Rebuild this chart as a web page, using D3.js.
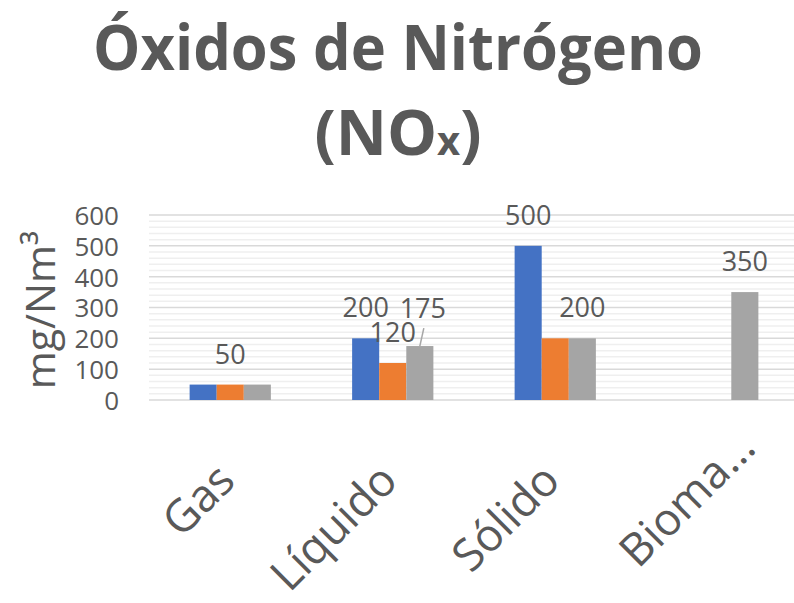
<!DOCTYPE html>
<html>
<head>
<meta charset="utf-8">
<script src="https://cdn.jsdelivr.net/npm/d3@7"></script>
<style>
  body { margin: 0; background: #ffffff; }
  text { font-family: "Open Sans", sans-serif; fill: #595959; }
</style>
</head>
<body>
<div id="chart"></div>
<script>
// data
const categories = ["Gas", "Líquido", "Sólido", "Biomasa"];
const categoryLabels = ["Gas", "Líquido", "Sólido", "Bioma…"];
const seriesNames = ["Serie 1", "Serie 2", "Serie 3"];
const serie1 = [50, 200, 500, null];
const serie2 = [50, 120, 200, null];
const serie3 = [50, 175, 200, 350];
const yTicks = [0, 100, 200, 300, 400, 500, 600];
// which data labels are visible: [category index, series index]
const shownLabels = [[0, 1], [1, 0], [1, 1], [1, 2], [2, 0], [2, 2], [3, 2]];

const colors = ["#4472C4", "#ED7D31", "#A5A5A5"];
const allSeries = [serie1, serie2, serie3];

const W = 794, H = 603;
const plot = {left: 149, right: 799, top: 215, bottom: 400};

const svg = d3.select("#chart").append("svg")
    .attr("width", W)
    .attr("height", H);

const x = d3.scaleBand()
    .domain(categories)
    .range([plot.left, plot.right])
    .padding(0);

const x1 = d3.scaleBand()
    .domain(seriesNames)
    .range([x.bandwidth() * 0.25, x.bandwidth() * 0.75])
    .padding(0);

const y = d3.scaleLinear()
    .domain([0, 600])
    .range([plot.bottom, plot.top]);

// minor gridlines
svg.append("g")
    .selectAll("line")
    .data(d3.range(0, 601, 20).filter(v => v % 100 !== 0))
    .join("line")
    .attr("x1", plot.left).attr("x2", W)
    .attr("y1", d => y(d)).attr("y2", d => y(d))
    .attr("stroke", "#efefef")
    .attr("stroke-width", 1.5);

// major gridlines
svg.append("g")
    .selectAll("line")
    .data(yTicks)
    .join("line")
    .attr("x1", plot.left).attr("x2", W)
    .attr("y1", d => y(d)).attr("y2", d => y(d))
    .attr("stroke", "#d9d9d9")
    .attr("stroke-width", 1.5);

// y axis labels
const yAxis = d3.axisLeft(y).tickValues(yTicks).tickSize(0).tickPadding(0);
const yg = svg.append("g")
    .attr("transform", "translate(119,0)")
    .call(yAxis);
yg.select(".domain").remove();
yg.selectAll("text")
    .style("font-family", "'Open Sans', sans-serif")
    .style("font-size", "26px")
    .attr("fill", "#595959")
    .attr("dy", "0.36em");

// bars
const groups = svg.append("g")
    .selectAll("g")
    .data(categories)
    .join("g")
    .attr("transform", d => "translate(" + x(d) + ",0)");

groups.selectAll("rect")
    .data((d, i) => allSeries.map((s, j) => ({name: seriesNames[j], value: s[i], color: colors[j]})))
    .join("rect")
    .filter(d => d.value != null)
    .attr("x", d => x1(d.name))
    .attr("width", x1.bandwidth())
    .attr("y", d => y(d.value))
    .attr("height", d => y(0) - y(d.value))
    .attr("fill", d => d.color);

// data labels
const labelGap = 21;
const labels = shownLabels.map(([ci, si]) => {
    const v = allSeries[si][ci];
    const cx = x(categories[ci]) + x1(seriesNames[si]) + x1.bandwidth() / 2;
    // the 175 label was dragged up in the original, with a leader line
    const moved = (ci === 1 && si === 2);
    return {v, cx: cx + (moved ? 3 : 0), ly: y(v) - labelGap - (moved ? 7 : 0), barX: cx, barY: y(v), moved};
});

svg.append("g")
    .selectAll("line")
    .data(labels.filter(d => d.moved))
    .join("line")
    .attr("x1", d => d.barX)
    .attr("y1", d => d.barY)
    .attr("x2", d => d.cx + 1)
    .attr("y2", d => d.ly + 10)
    .attr("stroke", "#a6a6a6")
    .attr("stroke-width", 1.5);

svg.append("g")
    .selectAll("text")
    .data(labels)
    .join("text")
    .attr("x", d => d.cx)
    .attr("y", d => d.ly)
    .attr("text-anchor", "middle")
    .style("font-size", "27px")
    .text(d => d.v);

// x axis labels (rotated; the truncated one sits further up-right)
svg.append("g")
    .selectAll("text")
    .data(categories)
    .join("text")
    .each(function(d, i) {
        const lbl = categoryLabels[i];
        const shift = lbl.endsWith("…") ? 33 : 0;
        const px = x(d) + x.bandwidth() / 2 + 7 + shift;
        const py = 483 - shift;
        d3.select(this)
            .attr("transform", "translate(" + px + "," + py + ") rotate(-45)")
            .attr("text-anchor", "end")
            .style("font-size", "45px")
            .text(lbl);
    });

// y axis title
svg.append("text")
    .attr("transform", "translate(55,310) rotate(-90)")
    .attr("text-anchor", "middle")
    .style("font-size", "41px")
    .text("mg/Nm³");

// title
const title = svg.append("g").attr("class", "title");
title.append("text")
    .attr("x", 398)
    .attr("y", 70)
    .attr("text-anchor", "middle")
    .style("font-weight", "700")
    .style("font-size", "63px")
    .attr("textLength", 610)
    .attr("lengthAdjust", "spacingAndGlyphs")
    .text("Óxidos de Nitrógeno");

const t2 = title.append("text")
    .attr("x", 398)
    .attr("y", 155)
    .attr("text-anchor", "middle")
    .style("font-weight", "700")
    .style("font-size", "63px");
t2.append("tspan").text("(NO");
t2.append("tspan").style("font-size", "40px").text("x");
t2.append("tspan").text(")");
</script>
</body>
</html>
